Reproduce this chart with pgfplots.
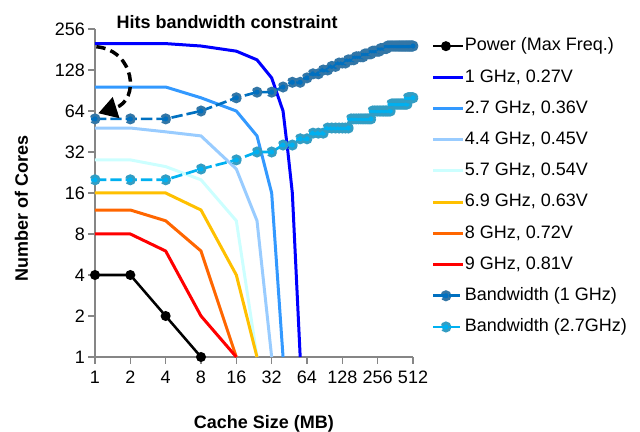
\documentclass[border=0pt]{standalone}
\usepackage{fontspec}
\setmainfont{Liberation Sans}
\usepackage{pgfplots}
\pgfplotsset{compat=1.18}
\usetikzlibrary{arrows.meta}
\definecolor{c1}{HTML}{0000FF}
\definecolor{c27}{HTML}{3399FF}
\definecolor{c44}{HTML}{99CCFF}
\definecolor{c57}{HTML}{CCFFFF}
\definecolor{c69}{HTML}{FFC000}
\definecolor{c8}{HTML}{FF6600}
\definecolor{c9}{HTML}{FF0000}
\definecolor{bw1}{HTML}{0070C0}
\definecolor{bw27}{HTML}{00B0F0}
\definecolor{axgray}{HTML}{868686}

\pgfplotstableread{
x y
1 56
2 56
4 56
8 64
16 80
24 88
32 88
40 96
48 104
56 104
64 112
72 120
80 120
88 128
96 128
104 136
112 136
120 144
128 144
136 144
144 152
152 152
160 152
168 160
176 160
184 160
192 160
200 168
208 168
216 168
224 168
232 176
240 176
248 176
256 176
264 176
272 184
280 184
288 184
296 184
304 184
312 192
320 192
328 192
336 192
344 192
352 192
360 192
368 192
376 192
384 192
392 192
400 192
408 192
416 192
424 192
432 192
440 192
448 192
456 192
464 192
472 192
480 192
488 192
496 192
504 192
512 192
}\bwone

\pgfplotstableread{
x y
1 20
2 20
4 20
8 24
16 28
24 32
32 32
40 36
48 36
56 40
64 40
72 44
80 44
88 44
96 48
104 48
112 48
120 48
128 48
136 48
144 48
152 56
160 56
168 56
176 56
184 56
192 56
200 56
208 56
216 56
224 56
232 64
240 64
248 64
256 64
264 64
272 64
280 64
288 64
296 64
304 64
312 64
320 64
328 64
336 72
344 72
352 72
360 72
368 72
376 72
384 72
392 72
400 72
408 72
416 72
424 72
432 72
440 72
448 72
456 72
464 80
472 80
480 80
488 80
496 80
504 80
512 80
}\bwtwo

\begin{document}
\begin{tikzpicture}[font=\fontsize{13.5}{16}\selectfont]
\useasboundingbox (-71.25pt,-56.25pt) rectangle (408.75pt,267.75pt);
\begin{axis}[
  at={(0pt,0pt)}, anchor=south west,
  scale only axis, width=238.5pt, height=246pt,
  xmode=log, ymode=log, log basis x=2, log basis y=2,
  xmin=1, xmax=512, ymin=1, ymax=256,
  axis x line*=bottom, axis y line*=left,
  axis line style={axgray, line width=1pt},
  tick align=outside, major tick length=5pt,
  tick style={axgray, line width=0.8pt},
  xminorticks=false, yminorticks=false,
  xtick={1,2,4,8,16,32,64,128,256,512},
  xticklabels={1,2,4,8,16,32,64,128,256,512},
  ytick={1,2,4,8,16,32,64,128,256},
  yticklabels={1,2,4,8,16,32,64,128,256},
  ticklabel style={font=\fontsize{13.5}{16}\selectfont},
  xticklabel style={yshift=-2.25pt},
  yticklabel style={xshift=1pt},
  xlabel={Cache Size (MB)},
  ylabel={Number of Cores},
  xlabel style={font=\bfseries\fontsize{13.5}{16}\selectfont, at={(axis description cs:0.531,-0.204)}, anchor=center},
  ylabel style={font=\bfseries\fontsize{13.5}{16}\selectfont, at={(axis description cs:-0.231,0.454)}, anchor=center},
  clip=false,
  legend cell align=left,
  legend style={draw=none, fill=none, at={(1.046,0.983)}, anchor=north west,
    row sep=10.4pt, font=\fontsize{13.5}{16}\selectfont,
    nodes={inner sep=0pt, text height=10pt, text depth=3pt}},
  legend image code/.code={%
    \draw[#1, mark repeat=2, mark phase=2] plot coordinates {(0pt,0pt) (9.4pt,0pt) (18.75pt,0pt)};
    \path (0pt,0pt) -- (22.5pt,0pt);},
  bwstyle/.style={line width=2pt, dash pattern=on 8.5pt off 3pt, mark=*, mark size=3.1pt,
     mark options={solid, line width=0.5pt}},
]
\addplot[black, line width=1.9pt, mark=*, mark size=2.75pt, mark options={solid}]
  coordinates {(1,4) (2,4) (4,2) (8,1)};
\addlegendentry{Power (Max Freq.)}
\addplot[c1, line width=2.25pt]
  coordinates {(1,200) (2,200) (4,200) (8,192) (16,176) (24,152) (32,112) (40,64) (44,32) (48,16) (56,1)};
\addlegendentry{1 GHz, 0.27V}
\addplot[c27, line width=2.25pt]
  coordinates {(1,96) (2,96) (4,96) (8,80) (16,64) (24,42) (32,16) (40,1)};
\addlegendentry{2.7 GHz, 0.36V}
\addplot[c44, line width=2.25pt]
  coordinates {(1,48) (2,48) (4,45) (8,42) (16,24) (24,10) (32,1)};
\addlegendentry{4.4 GHz, 0.45V}
\addplot[c57, line width=2.25pt]
  coordinates {(1,28) (2,28) (4,25) (8,20) (16,10) (24,1)};
\addlegendentry{5.7 GHz, 0.54V}
\addplot[c69, line width=2.25pt]
  coordinates {(1,16) (2,16) (4,16) (8,12) (16,4) (24,1)};
\addlegendentry{6.9 GHz, 0.63V}
\addplot[c8, line width=2.25pt]
  coordinates {(1,12) (2,12) (4,10) (8,6) (16,1)};
\addlegendentry{8 GHz, 0.72V}
\addplot[c9, line width=2.25pt]
  coordinates {(1,8) (2,8) (4,6) (8,2) (16,1)};
\addlegendentry{9 GHz, 0.81V}
\addplot[bw1, bwstyle, mark options={fill=bw1, draw=bw1!60!gray}] table[x=x,y=y] {\bwone};
\addlegendentry{Bandwidth (1 GHz)}
\addplot[bw27, bwstyle, mark options={fill=bw27, draw=bw27!60!gray}] table[x=x,y=y] {\bwtwo};
\addlegendentry{Bandwidth (2.7GHz)}
\end{axis}
\node[anchor=base west, font=\bfseries\fontsize{13.5}{16}\selectfont] at (12.75pt,246.5pt) {Hits bandwidth constraint};
\draw[black, line width=2.6pt, dash pattern=on 7pt off 4pt, -{Triangle[length=14pt,width=16pt]}]
  (1pt,232.7pt) .. controls (30pt,230pt) and (33.75pt,192.75pt) .. (2.5pt,182.8pt);
\end{tikzpicture}
\end{document}
